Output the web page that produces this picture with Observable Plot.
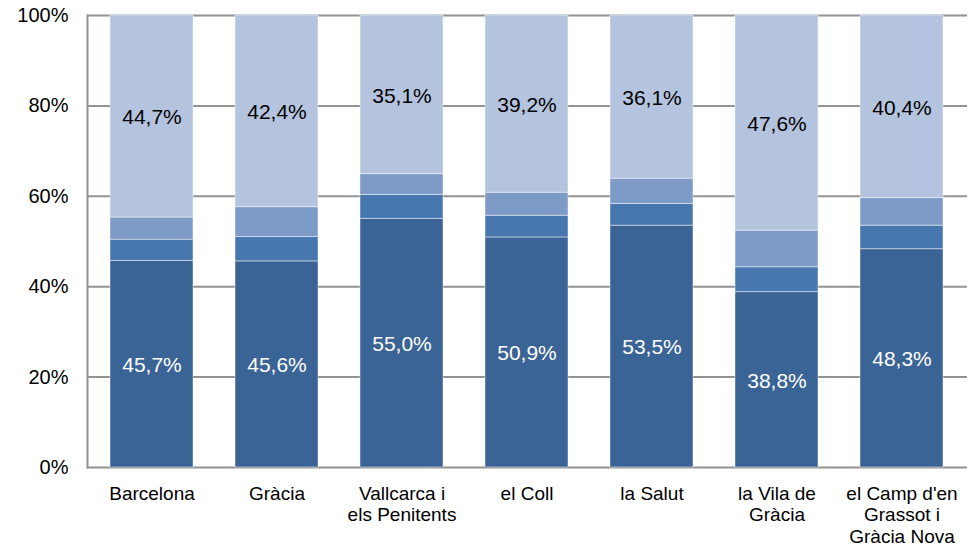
<!DOCTYPE html>
<html>
<head>
<meta charset="utf-8">
<script src="https://cdn.jsdelivr.net/npm/d3@7"></script>
<script src="https://cdn.jsdelivr.net/npm/@observablehq/plot@0.6"></script>
<style>
  html, body { margin: 0; padding: 0; background: #fff; }
  #chart svg { display: block; }
</style>
</head>
<body>
<div id="chart"></div>
<script>
const categories = ["Barcelona", "Gràcia", "Vallcarca i els Penitents", "el Coll", "la Salut", "la Vila de Gràcia", "el Camp d'en Grassot i Gràcia Nova"];
const tickLabels = ["Barcelona", "Gràcia", "Vallcarca i\nels Penitents", "el Coll", "la Salut", "la Vila de\nGràcia", "el Camp d'en\nGrassot i\nGràcia Nova"];
const series = ["s1", "s2", "s3", "s4"];
const s1 = [45.7, 45.6, 55.0, 50.9, 53.5, 38.8, 48.3];
const s2 = [4.7, 5.4, 5.3, 4.8, 4.8, 5.5, 5.2];
const s3 = [4.9, 6.6, 4.6, 5.1, 5.6, 8.1, 6.1];
const s4 = [44.7, 42.4, 35.1, 39.2, 36.1, 47.6, 40.4];
const yTicks = [0, 20, 40, 60, 80, 100];
const colors = ["#3b6496", "#4677af", "#7e9bc8", "#b4c3de"];

const values = [s1, s2, s3, s4];
const rows = [];
categories.forEach((c, i) => {
  let base = 0;
  values.forEach((arr, k) => {
    rows.push({cat: c, series: series[k], value: arr[i], y1: base, y2: base + arr[i], labeled: k === 0 || k === 3, labelColor: k === 0 ? "white" : "black"});
    base += arr[i];
  });
});
const fmt = v => v.toFixed(1).replace(".", ",") + "%";
const labelOf = Object.fromEntries(categories.map((c, i) => [c, tickLabels[i]]));

const chart = Plot.plot({
  width: 976,
  height: 553,
  marginLeft: 87,
  marginRight: 9,
  marginTop: 15,
  marginBottom: 86,
  style: {fontFamily: "'Liberation Sans', Arial, sans-serif", fontSize: "20px", color: "#000", background: "#fff"},
  x: {domain: categories, paddingInner: 0.332, paddingOuter: 0.166, label: null},
  y: {domain: [0, 100], label: null},
  color: {domain: series, range: colors},
  marks: [
    Plot.gridY(yTicks, {stroke: "#929292", strokeOpacity: 1, strokeWidth: 2}),
    Plot.frame({anchor: "left", stroke: "#929292", strokeWidth: 2}),
    Plot.barY(rows, {x: "cat", y1: "y1", y2: "y2", fill: "series", stroke: "white", strokeOpacity: 0.45, strokeWidth: 1}),
    Plot.text(rows.filter(d => d.labeled), {x: "cat", y: d => (d.y1 + d.y2) / 2, text: d => fmt(d.value), fill: "labelColor", fontSize: 21, dy: 1}),
    Plot.axisY({ticks: yTicks, tickFormat: d => d + "%", tickSize: 0, tickPadding: 19, fontSize: 20, label: null}),
    Plot.axisX({tickFormat: d => labelOf[d], tickSize: 0, tickPadding: 17, fontSize: 19, lineHeight: 1.13, label: null})
  ]
});
document.getElementById("chart").appendChild(chart);
</script>
</body>
</html>
